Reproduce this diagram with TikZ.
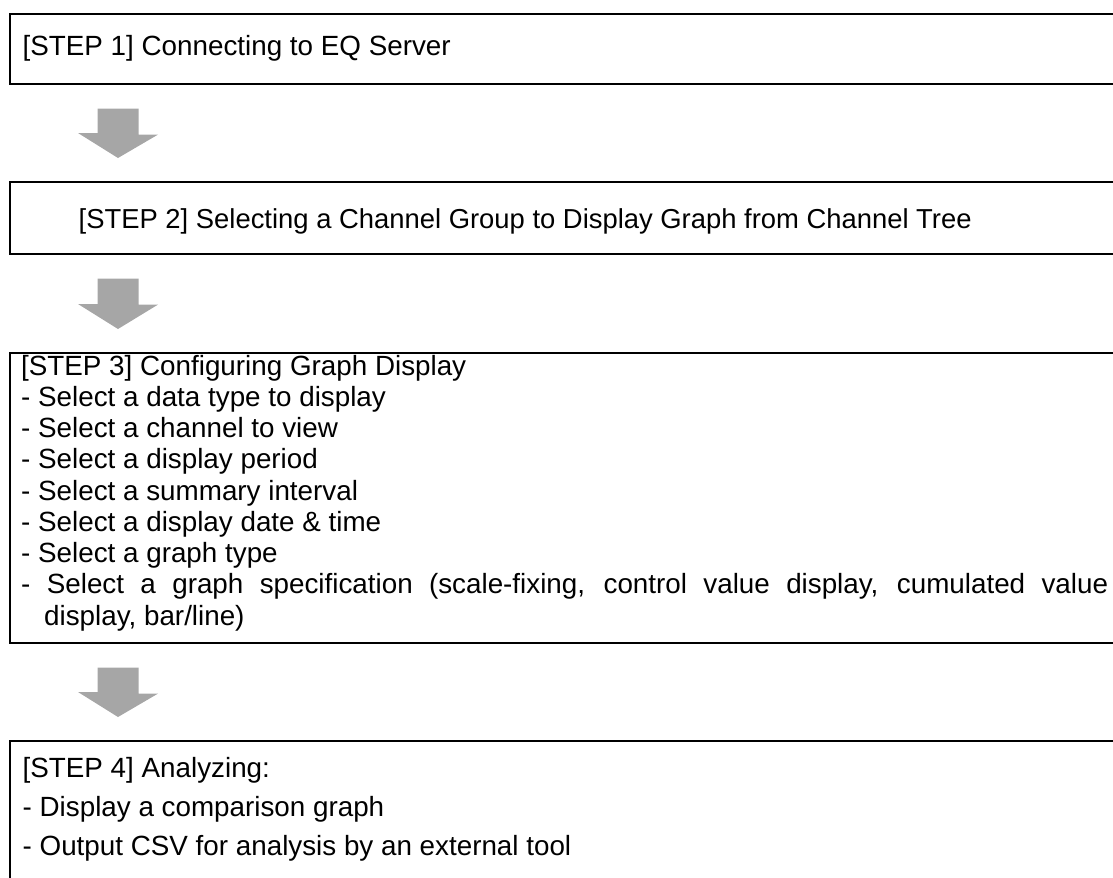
\documentclass[tikz,border=0pt]{standalone}
\usepackage{fontspec}
\setmainfont{Liberation Sans}
\definecolor{arrowgray}{HTML}{A6A6A6}
\begin{document}
\begin{tikzpicture}[x=1bp,y=-1bp,
  box/.style={draw=black, line width=1.6bp, rectangle, inner sep=0pt, anchor=north west},
  txt/.style={anchor=base west, inner sep=0pt, font=\fontsize{27.8bp}{32bp}\selectfont},
  blockarrow/.style={fill=arrowgray, draw=none}]
\useasboundingbox (0,0) rectangle (1113,878);
% boxes (they run past the right and bottom edges)
\node[box, minimum width=1130bp, minimum height=70bp] (b1) at (9,13) {};
\node[box, minimum width=1130bp, minimum height=72bp] (b2) at (9,181) {};
\node[box, minimum width=1130bp, minimum height=290bp] (b3) at (9,352) {};
\node[box, minimum width=1130bp, minimum height=200bp] (b4) at (9,740) {};
% texts (multi-line nodes are placed by the baseline of their last line)
\node[txt] (t1) at (22.5,55) {[STEP 1] Connecting to EQ Server};
\node[txt, font=\fontsize{27.4bp}{32bp}\selectfont] (t2) at (78.5,228) {[STEP 2] Selecting a Channel Group to Display Graph from Channel Tree};
\node[txt, align=left, font=\fontsize{27.8bp}{31.25bp}\selectfont] (t3) at (21,625) {%
[STEP 3] Configuring Graph Display\\
- Select a data type to display\\
- Select a channel to view\\
- Select a display period\\
- Select a summary interval\\
- Select a display date \& time\\
- Select a graph type\\
\makebox[1087bp][s]{- Select a graph specification (scale-fixing, control value display, cumulated value}\\
\hspace*{23bp}display, bar/line)};
\node[txt, align=left, font=\fontsize{27.8bp}{39bp}\selectfont] (t4) at (22.5,855) {%
[STEP 4] Analyzing:\\
- Display a comparison graph\\
- Output CSV for analysis by an external tool};
% block arrows between the boxes
\foreach \a/\b in {b1/b2, b2/b3, b3/b4} {
  \path (\a.south west) ++(109,24) coordinate (top)
        (\b.north west) ++(109,-23) coordinate (tip);
  \fill[blockarrow] (top) ++(-20.5,0) -- ++(41,0) -- ++(0,26) -- ++(19.5,0)
        -- (tip) -- ++(-40,-25) -- ++(19.5,0) -- cycle;
}
\end{tikzpicture}
\end{document}
